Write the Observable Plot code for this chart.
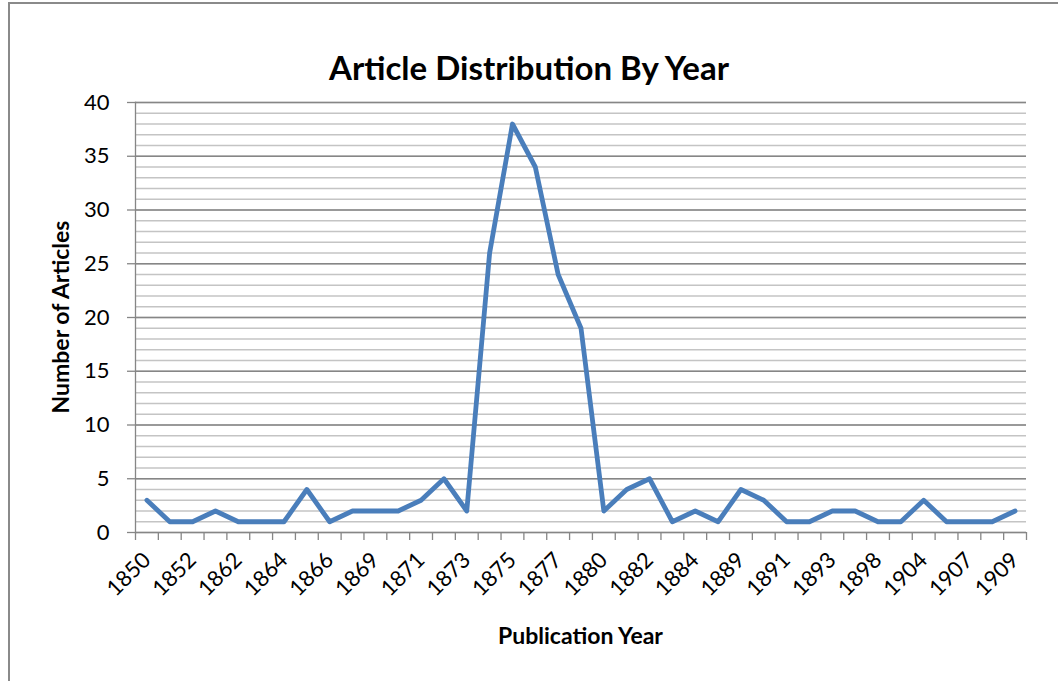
<!DOCTYPE html>
<html><head><meta charset="utf-8">
<script src="https://cdn.jsdelivr.net/npm/d3@7"></script>
<script src="https://cdn.jsdelivr.net/npm/@observablehq/plot@0.6"></script>
<style>
body{margin:0;background:#fff;font-family:Lato,"Open Sans",sans-serif;}
#wrap{position:relative;width:1058px;height:681px;overflow:hidden;background:#fff;}
#frame{position:absolute;left:8px;top:2px;width:1200px;height:800px;border:2px solid #8a8a8a;box-sizing:border-box;pointer-events:none;}
#chart{position:absolute;left:0;top:0;}
.t{position:absolute;font-weight:bold;color:#000;white-space:nowrap;line-height:1;}
#title{left:0;width:1058px;text-align:center;top:51px;font-size:33px;}
#xt{left:135px;width:891px;text-align:center;top:624px;font-size:23px;}
#yt{left:60px;top:317px;font-size:23px;transform:translate(-50%,-50%) rotate(-90deg);}
</style></head>
<body><div id="wrap"><div id="chart"></div><div id="frame"></div>
<div class="t" id="title">Article Distribution By Year</div>
<div class="t" id="xt">Publication Year</div>
<div class="t" id="yt">Number of Articles</div></div>
<script>
const years = ["1850","1851","1852","1860","1862","1863","1864","1865","1866","1867","1869","1870","1871","1872","1873","1874","1875","1876","1877","1879","1880","1881","1882","1883","1884","1886","1889","1890","1891","1892","1893","1895","1898","1900","1904","1905","1907","1908","1909"];
const counts = [3,1,1,2,1,1,1,4,1,2,2,2,3,5,2,26,38,34,24,19,2,4,5,1,2,1,4,3,1,1,2,2,1,1,3,1,1,1,2];
const labelYears = ["1850","1852","1862","1864","1866","1869","1871","1873","1875","1877","1880","1882","1884","1889","1891","1893","1898","1904","1907","1909"];
const yTicks = [0,5,10,15,20,25,30,35,40];
const minorTicks = d3.range(0, 41, 1);

const data = years.map((y, i) => ({year: y, count: counts[i]}));
const mL = 135, mR = 32, W = 1058;
const step = (W - mL - mR) / years.length;
const gray = "#868686";

const chart = Plot.plot({
  width: W, height: 681,
  marginLeft: mL, marginRight: mR, marginTop: 102, marginBottom: 149,
  style: {fontFamily: "Lato, 'Open Sans', sans-serif", background: "transparent", overflow: "visible"},
  x: {type: "point", domain: years, padding: 0.5},
  y: {domain: [0, 40]},
  marks: [
    Plot.ruleY(minorTicks, {stroke: "#c4c4c4", strokeWidth: 1.3}),
    Plot.ruleY(yTicks, {stroke: gray, strokeWidth: 1.3}),
    Plot.axisY({ticks: yTicks, tickSize: 8, tickPadding: 18, fontSize: 22, label: null, stroke: gray, fill: "#000", strokeWidth: 1.3}),
    Plot.axisX({ticks: labelYears, tickSize: 0, tickRotate: -45, tickPadding: 24, fontSize: 22, label: null, fill: "#000"}),
    Plot.ruleX(years, {x: d => d, y1: 0, y2: 0, insetBottom: -8, dx: -step / 2, stroke: gray, strokeWidth: 1.3}),
    Plot.ruleX([years[years.length - 1]], {x: d => d, y1: 0, y2: 0, insetBottom: -8, dx: step / 2, stroke: gray, strokeWidth: 1.3}),
    Plot.frame({anchor: "left", stroke: gray, strokeWidth: 1.3}),
    Plot.line(data, {x: "year", y: "count", stroke: "#4a7ebb", strokeWidth: 4.8, strokeLinejoin: "round", strokeLinecap: "round"})
  ]
});
document.getElementById("chart").appendChild(chart);
</script></body></html>
